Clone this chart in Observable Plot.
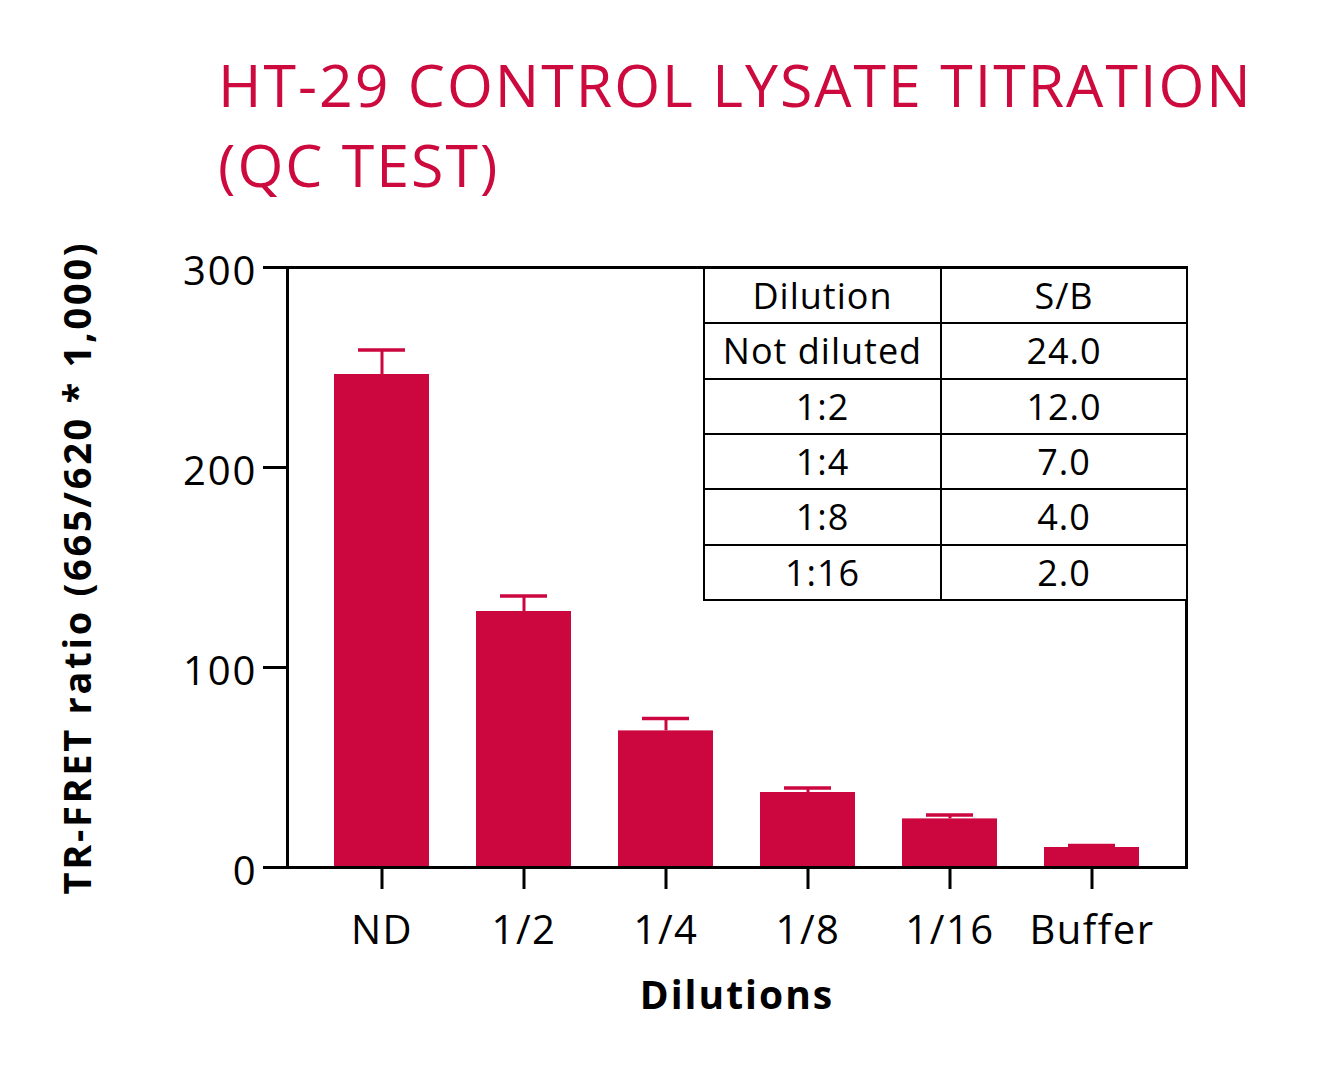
<!DOCTYPE html>
<html>
<head>
<meta charset="utf-8">
<script src="https://cdn.jsdelivr.net/npm/d3@7"></script>
<script src="https://cdn.jsdelivr.net/npm/@observablehq/plot@0.6"></script>
<style>
  body { margin: 0; background: #fff; font-family: "Open Sans", sans-serif; }
  #wrap { position: relative; width: 1340px; height: 1065px; background: #fff; }
  #title { position: absolute; left: 218px; top: 44px; color: #cc0a3d; font-size: 59px; line-height: 80px; font-weight: 400; white-space: nowrap; letter-spacing: 2px; }
  #chart { position: absolute; left: 0; top: 220px; }
  #tbl { position: absolute; left: 703px; top: 267px; width: 483px; height: 334px; border-collapse: collapse; table-layout: fixed; background: #fff; font-size: 36px; color: #000; letter-spacing: 1px; }
  #tbl td { border: 2px solid #000; text-align: center; vertical-align: middle; padding: 0; }
  #chart g[aria-label="x-axis tick label"] text { letter-spacing: 1.5px; }
  #chart g[aria-label="y-axis tick label"] text { letter-spacing: 2px; }
</style>
</head>
<body>
<div id="wrap">
  <div id="title"></div>
  <div id="chart"></div>
  <table id="tbl"><colgroup><col style="width:237px"><col style="width:246px"></colgroup><tbody></tbody></table>
</div>
<script>
const titleLines = ["HT-29 CONTROL LYSATE TITRATION", "(QC TEST)"];
const categories = ["ND", "1/2", "1/4", "1/8", "1/16", "Buffer"];
const barValues = [246.5, 128, 68.3, 37.5, 24.3, 10];
const errorTop = [258.8, 135.7, 74.5, 39.8, 26.2, 11];
const yTicks = [0, 100, 200, 300];
const yLabel = "TR-FRET ratio (665/620 * 1,000)";
const xLabel = "Dilutions";
const tableHeader = ["Dilution", "S/B"];
const tableDilution = ["Not diluted", "1:2", "1:4", "1:8", "1:16"];
const tableSB = ["24.0", "12.0", "7.0", "4.0", "2.0"];

const COLOR = "#cc063e";

document.getElementById("title").innerHTML = titleLines.join("<br>");

const tbody = document.querySelector("#tbl tbody");
const rows = [tableHeader, ...tableDilution.map((d, i) => [d, tableSB[i]])];
for (const r of rows) {
  const tr = document.createElement("tr");
  for (const c of r) { const td = document.createElement("td"); td.textContent = c; tr.appendChild(td); }
  tbody.appendChild(tr);
}

const data = categories.map((c, i) => ({cat: c, value: barValues[i], upper: errorTop[i]}));

const plot = Plot.plot({
  width: 1340, height: 845,
  marginLeft: 287, marginRight: 154, marginTop: 47, marginBottom: 198,
  style: {fontFamily: "Open Sans", fontSize: "38px", color: "black", background: "white", overflow: "visible"},
  x: {domain: categories, padding: 0.33, label: null},
  y: {domain: [0, 300], label: null},
  marks: [
    Plot.barY(data, {x: "cat", y: "value", fill: COLOR}),
    Plot.ruleX(data, {x: "cat", y1: "value", y2: "upper", stroke: COLOR, strokeWidth: 3}),
    Plot.tickY(data, {x: "cat", y: "upper", stroke: COLOR, strokeWidth: 3.5, insetLeft: 24, insetRight: 24}),
    Plot.frame({stroke: "black", strokeWidth: 3}),
    Plot.axisY({ticks: yTicks, tickSize: 24, strokeWidth: 3, tickFormat: () => "", label: null}),
    Plot.axisY({ticks: yTicks, tickSize: 0, tickPadding: 30, fontSize: 40, dy: 5, label: null}),
    Plot.axisX({tickSize: 22, tickPadding: 26, strokeWidth: 3, fontSize: 40, label: null}),
    Plot.text([yLabel], {text: d => d, frameAnchor: "left", dx: -209, rotate: -90, fontWeight: 700, fontSize: 38, textAnchor: "middle", lineAnchor: "middle"}),
    Plot.text([xLabel], {text: d => d, frameAnchor: "bottom", dy: 129, fontWeight: 700, fontSize: 39, textAnchor: "middle", lineAnchor: "middle"})
  ]
});
d3.select(plot).selectAll("text").each(function () {
  const t = this.textContent;
  if (t === yLabel) this.setAttribute("letter-spacing", "2.7");
  if (t === xLabel) this.setAttribute("letter-spacing", "2");
});
document.getElementById("chart").appendChild(plot);
</script>
</body>
</html>
